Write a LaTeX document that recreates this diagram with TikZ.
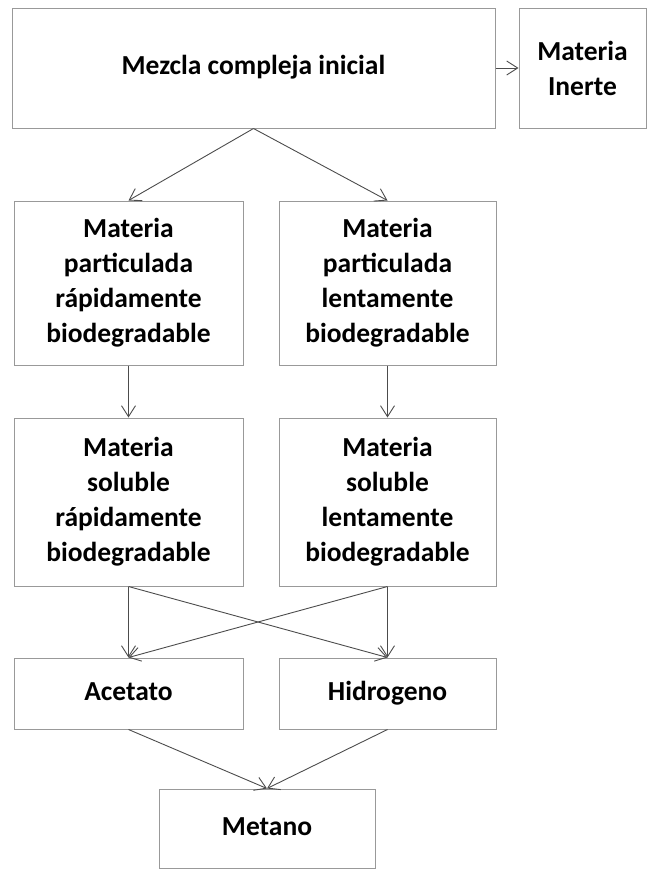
\documentclass[tikz,border=0pt]{standalone}
\usepackage{fontspec}
\setmainfont{Carlito}
\usetikzlibrary{arrows.meta}
\begin{document}
\begin{tikzpicture}[x=1pt,y=-1pt,
  box/.style={draw=black!40, line width=1pt, rectangle, inner sep=0pt,
    align=center, font=\fontsize{27.5}{35}\selectfont\bfseries, text=black},
  oneline/.style={text height=19pt, text depth=6pt},
  flow/.style={draw=black!70, line width=0.9pt,
    -{Straight Barb[length=11pt,width=14pt,line width=0.9pt]}}]
  \useasboundingbox (0,0) rectangle (650,870);
  % boxes
  \node[box, oneline, minimum width=483pt, minimum height=120pt] (mezcla) at (253.5,68) {Mezcla compleja inicial};
  \node[box, minimum width=127pt, minimum height=120pt] (inerte) at (582.5,68) {Materia\\Inerte};
  \node[box, minimum width=229pt, minimum height=164pt] (pr) at (128.5,283) {Materia\\particulada\\rápidamente\\biodegradable};
  \node[box, minimum width=217pt, minimum height=164pt] (pl) at (387.5,283) {Materia\\particulada\\lentamente\\biodegradable};
  \node[box, minimum width=229pt, minimum height=168pt] (sr) at (128.5,502) {Materia\\soluble\\rápidamente\\biodegradable};
  \node[box, minimum width=217pt, minimum height=168pt] (sl) at (387.5,502) {Materia\\soluble\\lentamente\\biodegradable};
  \node[box, oneline, minimum width=229pt, minimum height=71pt] (acetato) at (128.5,693.5) {Acetato};
  \node[box, oneline, minimum width=217pt, minimum height=71pt] (hidro) at (387.5,693.5) {Hidrogeno};
  \node[box, oneline, minimum width=216pt, minimum height=79pt] (metano) at (267,828.5) {Metano};
  % connectors
  \draw[flow] (mezcla.east) -- (inerte.west);
  \draw[flow] (mezcla.south) -- (pr.north);
  \draw[flow] (mezcla.south) -- (pl.north);
  \draw[flow] (pr.south) -- (sr.north);
  \draw[flow] (pl.south) -- (sl.north);
  \draw[flow] (sr.south) -- (acetato.north);
  \draw[flow] (sr.south) -- (hidro.north);
  \draw[flow] (sl.south) -- (acetato.north);
  \draw[flow] (sl.south) -- (hidro.north);
  \draw[flow] (acetato.south) -- (metano.north);
  \draw[flow] (hidro.south) -- (metano.north);
\end{tikzpicture}
\end{document}
